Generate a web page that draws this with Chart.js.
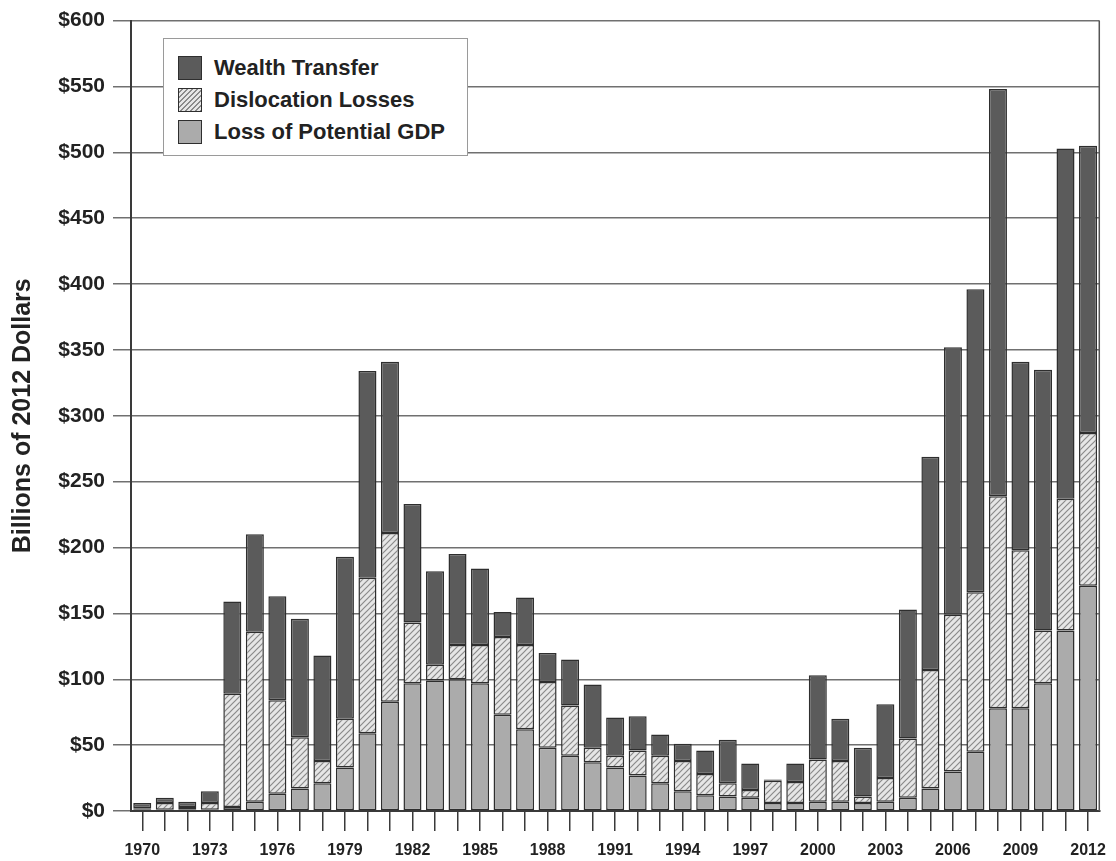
<!DOCTYPE html>
<html lang="en">
<head>
    <meta charset="UTF-8">
    <title>Oil dependence costs 1970-2012</title>
    <script src="https://cdn.jsdelivr.net/npm/chart.js"></script>
    <style>
        body { margin: 0; background: #fff; font-family: 'Liberation Sans', Arial, sans-serif; }
        .wrap { position: relative; width: 1116px; height: 861px; }
        .legend {
            position: absolute; left: 163px; top: 38px; width: 305px; height: 118px;
            border: 1.5px solid #9a9a9a; background: #fff; box-sizing: border-box;
            padding: 13px 0 0 14px;
        }
        .legend-item { display: flex; align-items: center; height: 32px; font-weight: bold; font-size: 22px; color: #222; }
        .swatch { width: 22px; height: 22px; border: 1.5px solid #2e2e2e; margin-right: 12px; }
        .sw-wealth { background: #5b5b5b; }
        .sw-disloc { background: repeating-linear-gradient(135deg, #e6e6e6 0 2px, #8a8a8a 2px 3.5px); }
        .sw-gdp { background: #ababab; }
    </style>
</head>
<body>
<div class="wrap">
    <canvas id="costChart"></canvas>
    <div class="legend">
        <div class="legend-item"><span class="swatch sw-wealth"></span>Wealth Transfer</div>
        <div class="legend-item"><span class="swatch sw-disloc"></span>Dislocation Losses</div>
        <div class="legend-item"><span class="swatch sw-gdp"></span>Loss of Potential GDP</div>
    </div>
</div>

<script>
    // Data (billions of 2012 dollars)
    const years = [];
    for (let y = 1970; y <= 2012; y++) years.push(String(y));

    const gdpLoss = [1, 1, 1, 1, 3, 7, 13, 17, 21, 33,
        59, 83, 97, 99, 100, 97, 73, 62, 48, 42,
        37, 33, 27, 21, 15, 12, 11, 10, 6, 6,
        7, 7, 6, 7, 10, 17, 30, 45, 78, 78,
        97, 137, 171];
    const dislocationLosses = [1, 5, 2, 5, 86, 129, 71, 39, 17, 37,
        118, 128, 46, 12, 26, 29, 59, 64, 50, 38,
        11, 9, 19, 21, 23, 16, 10, 6, 17, 16,
        32, 31, 5, 18, 45, 90, 119, 121, 161, 120,
        40, 100, 116];
    const wealthTransfer = [4, 4, 4, 9, 70, 74, 79, 90, 80, 123,
        157, 130, 90, 71, 69, 58, 19, 36, 22, 35,
        48, 29, 26, 16, 13, 18, 33, 20, 1, 14,
        64, 32, 37, 56, 98, 162, 203, 230, 309, 143,
        198, 266, 218];

    const yTicks = [0, 50, 100, 150, 200, 250, 300, 350, 400, 450, 500, 550, 600];

    // Hatch pattern for dislocation losses
    function makeHatch() {
        const c = document.createElement('canvas');
        c.width = 6; c.height = 6;
        const g = c.getContext('2d');
        g.fillStyle = '#e6e6e6';
        g.fillRect(0, 0, 6, 6);
        g.strokeStyle = '#8a8a8a';
        g.lineWidth = 1.2;
        g.beginPath();
        g.moveTo(-1, 1); g.lineTo(1, -1);
        g.moveTo(0, 6); g.lineTo(6, 0);
        g.moveTo(5, 7); g.lineTo(7, 5);
        g.stroke();
        return g.createPattern(c, 'repeat');
    }

    const frameRight = {
        id: 'frameRight',
        afterDraw(chart) {
            const a = chart.chartArea, ctx = chart.ctx;
            ctx.save();
            ctx.strokeStyle = '#555';
            ctx.lineWidth = 1.5;
            ctx.beginPath();
            ctx.moveTo(a.right, a.top);
            ctx.lineTo(a.right, a.bottom);
            ctx.stroke();
            ctx.restore();
        }
    };

    const FONT = "'Liberation Sans', Arial, sans-serif";

    const ctx = document.getElementById('costChart').getContext('2d');
    new Chart(ctx, {
        type: 'bar',
        data: {
            labels: years,
            datasets: [
                { label: 'Loss of Potential GDP', data: gdpLoss, backgroundColor: '#ababab' },
                { label: 'Dislocation Losses', data: dislocationLosses, backgroundColor: makeHatch() },
                { label: 'Wealth Transfer', data: wealthTransfer, backgroundColor: '#5b5b5b' }
            ]
        },
        options: {
            responsive: true,
            maintainAspectRatio: false,
            animation: false,
            layout: { padding: { left: 0, right: 15, top: 10, bottom: 0 } },
            datasets: {
                bar: {
                    borderColor: '#2e2e2e',
                    borderWidth: 1.5,
                    categoryPercentage: 1,
                    barPercentage: 0.8,
                    borderSkipped: false
                }
            },
            plugins: {
                legend: { display: false },
                tooltip: { enabled: false }
            },
            scales: {
                x: {
                    stacked: true,
                    grid: { drawOnChartArea: false, offset: false, tickLength: 20, color: '#3a3a3a', lineWidth: 1.5 },
                    border: { color: '#3a3a3a', width: 2 },
                    ticks: {
                        autoSkip: false,
                        maxRotation: 0,
                        padding: 10,
                        color: '#222',
                        font: { family: FONT, size: 16, weight: 'bold' },
                        callback: function (v, i) {
                            return (i % 3 === 0) ? years[i] : '';
                        }
                    },
                    afterFit: function (s) { s.height = 50; }
                },
                y: {
                    stacked: true,
                    min: 0,
                    max: 600,
                    afterBuildTicks: function (s) { s.ticks = yTicks.map(v => ({ value: v })); },
                    grid: { color: '#707070', lineWidth: 1.5, tickLength: 18 },
                    border: { color: '#3a3a3a', width: 2 },
                    ticks: {
                        padding: 8,
                        color: '#222',
                        font: { family: FONT, size: 21, weight: 'bold' },
                        callback: v => '$' + v
                    },
                    title: {
                        display: true,
                        text: 'Billions of 2012 Dollars',
                        color: '#222',
                        padding: { top: 8, bottom: 0 },
                        font: { family: FONT, size: 25, weight: 'bold' }
                    },
                    afterFit: function (s) { s.width = 131; }
                }
            }
        },
        plugins: [frameRight]
    });
</script>
</body>
</html>
